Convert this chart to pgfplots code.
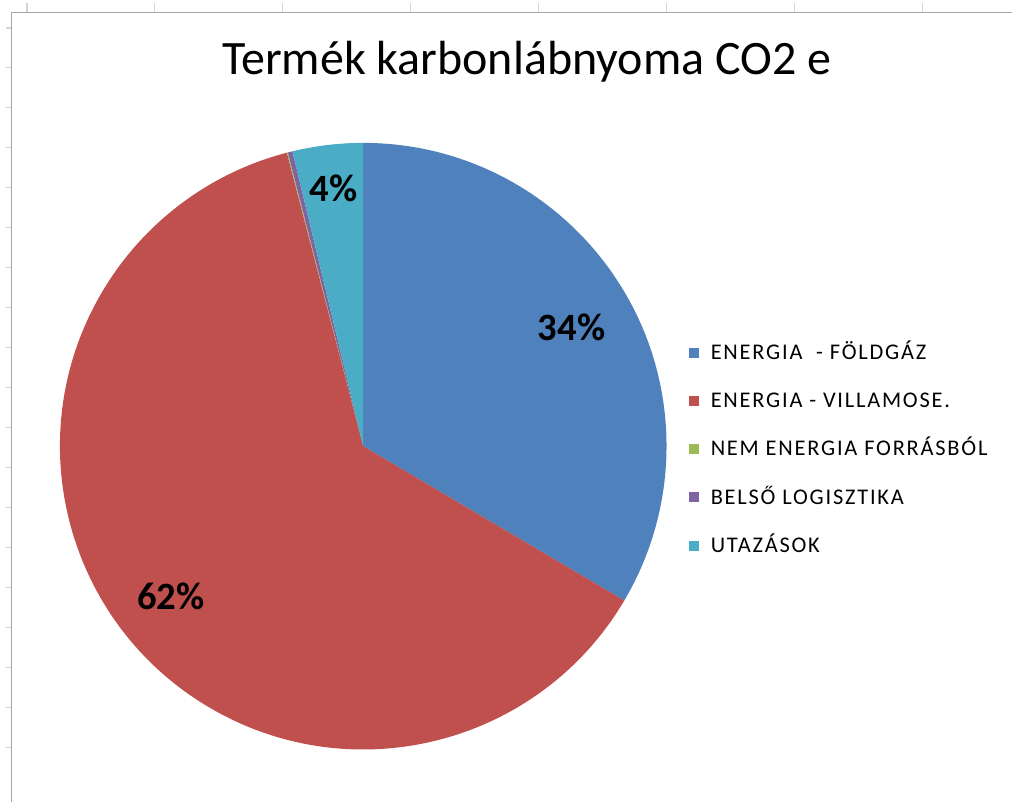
\documentclass[border=0pt]{standalone}
\usepackage{pgfplots}
\pgfplotsset{compat=1.18}
\usepackage{fontspec}
\setmainfont{Carlito}
\newfontfamily\legfont[LetterSpace=8]{Carlito}
\definecolor{c1}{HTML}{4F81BD}
\definecolor{c2}{HTML}{C0504D}
\definecolor{c3}{HTML}{9BBB59}
\definecolor{c4}{HTML}{8064A2}
\definecolor{c5}{HTML}{4BACC6}
\definecolor{frame}{HTML}{A6A6A6}
\definecolor{tickg}{HTML}{D4D4D4}
% pie shares (percent)
\def\vA{33.5}  % ENERGIA - FÖLDGÁZ
\def\vB{62.45} % ENERGIA - VILLAMOSE.
\def\vC{0.05}  % NEM ENERGIA FORRÁSBÓL
\def\vD{0.25}  % BELSŐ LOGISZTIKA
\def\vE{3.75}  % UTAZÁSOK
\begin{document}
\begin{tikzpicture}
\pgfmathsetmacro\aZ{90}
\pgfmathsetmacro\aA{\aZ-3.6*\vA}
\pgfmathsetmacro\aB{\aA-3.6*\vB}
\pgfmathsetmacro\aC{\aB-3.6*\vC}
\pgfmathsetmacro\aD{\aC-3.6*\vD}
\pgfmathsetmacro\aE{\aD-3.6*\vE}
\def\R{227.625pt}
\begin{axis}[x=0.75pt,y=0.75pt,xmin=0,xmax=1013,ymin=0,ymax=803,
  hide axis,scale only axis,clip=false]
\path (axis cs:0,0) rectangle (axis cs:1013,803);
% spreadsheet frame
\foreach \xx in {27,155,283,411,539,667,795,923}{
  \edef\tmp{\noexpand\draw[tickg,line width=0.8pt] (axis cs:\xx,800) -- (axis cs:\xx,790.7);}\tmp}
\foreach \yy in {55,95,...,795}{
  \edef\tmp{\noexpand\draw[tickg,line width=0.8pt] (axis cs:6,\yy) -- (axis cs:11.5,\yy);}\tmp}
\draw[frame,line width=1.1pt] (axis cs:11.5,0) -- (axis cs:11.5,790.7) -- (axis cs:1013,790.7);
% title
\node[anchor=base,inner sep=0pt,font=\fontsize{36}{40}\selectfont] at (axis cs:527,728) {Termék karbonlábnyoma CO2 e};
% pie
\fill[c1] (axis cs:363.5,356.5) -- ++(\aZ:\R) arc[start angle=\aZ,end angle=\aA,radius=\R] -- cycle;
\fill[c2] (axis cs:363.5,356.5) -- ++(\aA:\R) arc[start angle=\aA,end angle=\aB,radius=\R] -- cycle;
\fill[c3] (axis cs:363.5,356.5) -- ++(\aB:\R) arc[start angle=\aB,end angle=\aC,radius=\R] -- cycle;
\fill[c4] (axis cs:363.5,356.5) -- ++(\aC:\R) arc[start angle=\aC,end angle=\aD,radius=\R] -- cycle;
\fill[c5] (axis cs:363.5,356.5) -- ++(\aD:\R) arc[start angle=\aD,end angle=\aE,radius=\R] -- cycle;
% data labels
\node[inner sep=0pt,font=\bfseries\fontsize{29}{32}\selectfont] at (axis cs:572,475) {34\%};
\node[inner sep=0pt,font=\bfseries\fontsize{29}{32}\selectfont] at (axis cs:171,206) {62\%};
\node[inner sep=0pt,font=\bfseries\fontsize{29}{32}\selectfont] at (axis cs:334,615) {4\%};
% legend
\fill[c1] (axis cs:689,445) rectangle (axis cs:699,455);
\fill[c2] (axis cs:689,397) rectangle (axis cs:699,407);
\fill[c3] (axis cs:689,349) rectangle (axis cs:699,359);
\fill[c4] (axis cs:689,300.5) rectangle (axis cs:699,310.5);
\fill[c5] (axis cs:689,252) rectangle (axis cs:699,262);
\begin{scope}[every node/.style={anchor=base west,inner sep=0pt,font=\legfont\fontsize{16.8}{19}\selectfont}]
\node at (axis cs:711,443) {ENERGIA \ - FÖLDGÁZ};
\node at (axis cs:711,395) {ENERGIA - VILLAMOSE.};
\node at (axis cs:711,347) {NEM ENERGIA FORRÁSBÓL};
\node at (axis cs:711,298.5) {BELSŐ LOGISZTIKA};
\node at (axis cs:711,250) {UTAZÁSOK};
\end{scope}
\end{axis}
\end{tikzpicture}
\end{document}
